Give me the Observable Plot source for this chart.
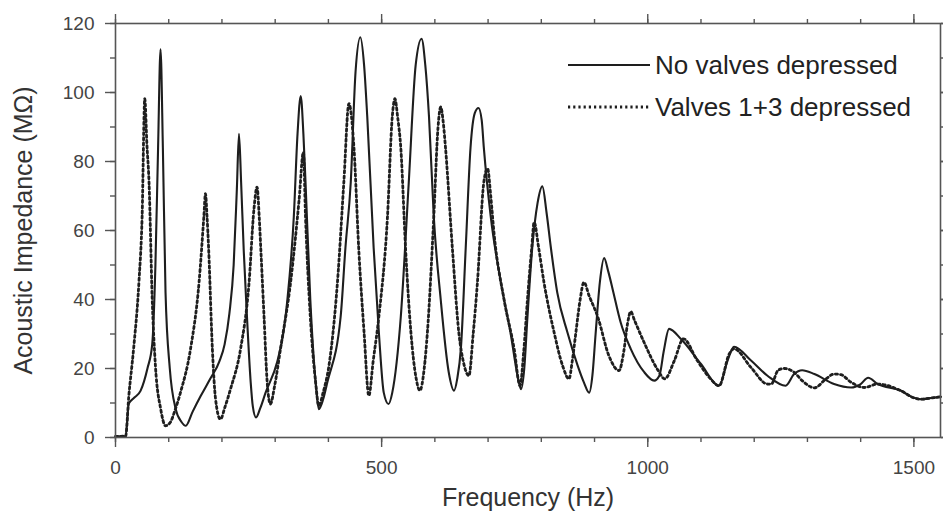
<!DOCTYPE html>
<html>
<head>
<meta charset="utf-8">
<script src="https://cdn.jsdelivr.net/npm/d3@7"></script>
<script src="https://cdn.jsdelivr.net/npm/@observablehq/plot@0.6"></script>
<style>
  html, body { margin: 0; padding: 0; background: #fff; }
  #chart { width: 943px; height: 521px; }
</style>
</head>
<body>
<div id="chart"></div>
<script>
// ---- Data ----
const seriesNames = ["No valves depressed", "Valves 1+3 depressed"];

const noValvesFreq = [0, 19, 25, 35, 47, 60, 69, 75, 80, 84.6, 89, 94, 102, 113, 124, 132, 145, 160, 178, 195, 205, 214, 222, 228, 232, 236, 241, 247, 254, 258, 264, 272, 282, 304, 315, 323, 335, 342, 348, 353, 357, 366, 376, 382, 390, 398, 423, 432, 442, 451, 460, 467, 473, 485, 495, 504, 513, 520, 536, 551, 564, 575, 582, 589, 598, 611, 626, 636, 642, 649, 658, 667, 675, 682, 688, 692, 705, 724, 742, 758, 762, 768, 774, 783, 793, 802, 810, 818, 830, 849, 868, 880, 890, 896, 902, 910, 918, 926, 934, 949, 968, 993, 1012, 1022, 1030, 1040, 1062, 1100, 1134, 1150, 1162, 1194, 1225, 1259, 1275, 1290, 1313, 1350, 1382, 1400, 1414, 1432, 1475, 1500, 1513, 1535, 1551];
const noValvesZ = [0.3, 0.4, 9.8, 11.5, 13.5, 20, 27, 50, 84, 112.5, 84, 42, 20, 8.3, 4.5, 3.4, 7.5, 12, 17, 22, 27, 36, 50, 72, 88, 74, 54, 35, 16, 9, 5.8, 8.5, 13, 22, 30, 40, 64, 88, 99, 88, 74, 40, 16, 8.2, 11, 16, 35, 55, 74, 106, 116, 108, 93, 55, 30, 13, 9.7, 13, 35, 74, 108, 115.6, 108, 93, 64, 40, 19, 13.6, 17, 26, 55, 84, 94, 95.5, 92, 84, 64, 45, 30.5, 16, 14, 20, 35, 55, 68, 72.8, 65, 55, 42, 30.5, 21, 16, 13, 18, 30, 45, 52, 48, 43, 33.4, 25.7, 19, 16.5, 18, 25, 31.5, 28.6, 21.3, 15, 22.3, 26.3, 22.3, 17.9, 15, 18.4, 19.5, 18.4, 15.5, 14.5, 15.5, 17.3, 15.5, 13.6, 11.5, 11.1, 11.5, 11.8];

const valves13Freq = [0, 19, 25, 34, 44, 50, 55, 59, 63, 69, 75, 85, 94, 103, 112, 122, 141, 157, 166, 169, 172, 175, 182, 188, 197, 206, 216, 235, 251, 260, 266, 270, 273, 279, 285, 291, 299, 310, 329, 345, 353, 357, 366, 376, 382, 390, 401, 417, 429, 438.5, 448, 457, 467, 476, 484, 495, 511, 520, 525, 530, 536, 545, 555, 565, 572, 580, 586, 598, 606, 611, 616, 620, 633, 645, 655, 664, 672, 680, 692, 699, 705, 711, 730, 749, 760, 767, 774, 782, 786.5, 795, 805, 824, 840, 852, 858, 865, 873, 880, 890, 906, 927, 946, 955, 962, 968, 975, 993, 1018, 1032, 1050, 1067, 1093, 1118, 1134, 1153, 1162, 1194, 1225, 1232, 1245, 1256, 1275, 1290, 1313, 1335, 1350, 1363, 1382, 1407, 1432, 1475, 1500, 1513, 1535, 1551];
const valves13Z = [0.3, 0.4, 12, 25.7, 45, 64, 98.2, 85, 74, 40, 20.8, 8.2, 3.4, 4.4, 8, 13, 25.7, 45, 64, 70.7, 64, 54.7, 25.7, 11.1, 5.3, 9, 14, 25.7, 45, 66, 72.6, 64, 54.7, 35.3, 16, 9.7, 15, 25.7, 45, 69, 82.7, 64, 35, 16, 9.2, 13, 20.8, 45, 74, 96.8, 84, 54.7, 30.5, 12.1, 22, 35.3, 64, 93, 98.2, 93, 84, 54.7, 30.5, 17, 13.6, 20, 30.5, 64, 90, 95.8, 91, 84, 54.7, 30.5, 21, 17.9, 30, 45, 74, 78, 70, 59.5, 40, 25.7, 15, 25, 40, 55, 62.4, 55, 45, 30.5, 20.8, 17, 22, 30.5, 40, 45, 41, 35, 23.7, 19.4, 25, 33, 36.5, 34, 27.6, 19.8, 17, 22.3, 28.6, 22.3, 17, 15, 24.2, 25.7, 20.3, 15.5, 15.5, 19.5, 20, 18.9, 16.5, 14.4, 17, 18.4, 18.2, 16, 14.5, 15.5, 13.6, 11.5, 11.1, 11.5, 11.8];

const xMajorTicks = [0, 500, 1000, 1500];
const xMinorTicks = [0, 100, 200, 300, 400, 500, 600, 700, 800, 900, 1000, 1100, 1200, 1300, 1400, 1500];
const yMajorTicks = [0, 20, 40, 60, 80, 100, 120];
const yMinorTicks = [0, 10, 20, 30, 40, 50, 60, 70, 80, 90, 100, 110, 120];

const xLabel = "Frequency (Hz)";
const yLabel = "Acoustic Impedance (MΩ)";

// ---- Build tables ----
const noValves = noValvesFreq.map((f, i) => ({f, z: noValvesZ[i], s: seriesNames[0]}));
const valves13 = valves13Freq.map((f, i) => ({f, z: valves13Z[i], s: seriesNames[1]}));

const font = "'Liberation Sans', Arial, Helvetica, sans-serif";
const ink = "#1e1e1e";
const axisInk = "#555";
const tickText = "#444";

const solidStyle = {stroke: ink, strokeWidth: 2.1};
const dottedStyle = {stroke: ink, strokeWidth: 2.8, strokeDasharray: "2.2,3"};

const plot = Plot.plot({
  width: 943,
  height: 521,
  marginLeft: 115,
  marginRight: 3,
  marginTop: 23,
  marginBottom: 84,
  style: {fontFamily: font, background: "#fff", overflow: "visible"},
  x: {domain: [0, 1550]},
  y: {domain: [0, 120]},
  marks: [
    Plot.line(noValves, {x: "f", y: "z", curve: "monotone-x", ...solidStyle}),
    Plot.line(valves13, {x: "f", y: "z", curve: "monotone-x", ...dottedStyle}),
    Plot.frame({stroke: axisInk, strokeWidth: 1.6}),
    // minor ticks
    Plot.axisX(xMinorTicks, {anchor: "bottom", tickSize: 5, fill: null, stroke: axisInk, strokeWidth: 1.4, label: null}),
    Plot.axisX(xMinorTicks, {anchor: "top", tickSize: 5, fill: null, stroke: axisInk, strokeWidth: 1.4, label: null}),
    Plot.axisY(yMinorTicks, {anchor: "left", tickSize: 5, fill: null, stroke: axisInk, strokeWidth: 1.4, label: null}),
    Plot.axisY(yMinorTicks, {anchor: "right", tickSize: 5, fill: null, stroke: axisInk, strokeWidth: 1.4, label: null}),
    // major ticks + labels
    Plot.axisX(xMajorTicks, {anchor: "bottom", tickSize: 10, tickPadding: 13, tickFormat: "d", fontSize: 19, fill: tickText, stroke: axisInk, strokeWidth: 1.4, label: null}),
    Plot.axisX(xMajorTicks, {anchor: "top", tickSize: 10, fill: null, stroke: axisInk, strokeWidth: 1.4, label: null}),
    Plot.axisY(yMajorTicks, {anchor: "left", tickSize: 10, tickPadding: 11, tickFormat: "d", fontSize: 19, fill: tickText, stroke: axisInk, strokeWidth: 1.4, label: null}),
    Plot.axisY(yMajorTicks, {anchor: "right", tickSize: 10, fill: null, stroke: axisInk, strokeWidth: 1.4, label: null}),
    // axis titles
    Plot.text([xLabel], {text: d => d, frameAnchor: "bottom", textAnchor: "middle", dy: 68, fontSize: 25, fill: "#333"}),
    Plot.text([yLabel], {text: d => d, frameAnchor: "left", textAnchor: "middle", rotate: -90, dx: -92, fontSize: 25, fill: "#333"})
  ]
});

// ---- Legend (top right, inside the frame) ----
const svg = d3.select(plot);
const legend = svg.append("g")
  .attr("font-family", font)
  .attr("font-size", 26)
  .attr("text-anchor", "start")
  .attr("fill", "#222");
const legendStyles = [solidStyle, dottedStyle];
const legendX0 = 568, legendX1 = 650, legendTextX = 655, legendY0 = 65, legendStep = 42;
seriesNames.forEach((name, i) => {
  const y = legendY0 + i * legendStep;
  const st = legendStyles[i];
  legend.append("line")
    .attr("x1", legendX0).attr("x2", legendX1).attr("y1", y).attr("y2", y)
    .attr("stroke", st.stroke).attr("stroke-width", st.strokeWidth)
    .attr("stroke-dasharray", st.strokeDasharray || null);
  legend.append("text")
    .attr("x", legendTextX).attr("y", y).attr("dy", "0.35em")
    .attr("text-anchor", "start")
    .text(name);
});

document.getElementById("chart").appendChild(plot);
</script>
</body>
</html>
